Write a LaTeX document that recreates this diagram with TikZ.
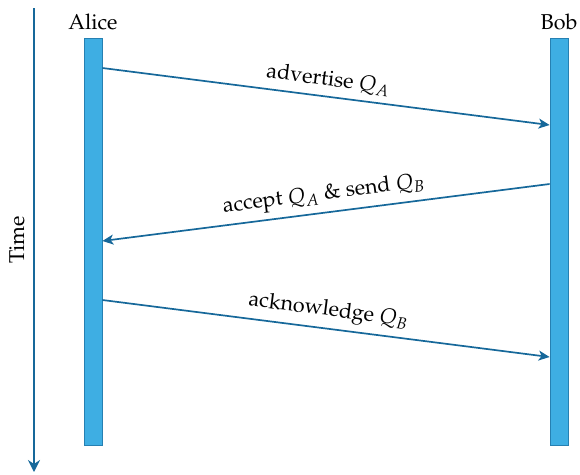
\documentclass[tikz,border=0pt]{standalone}
\usepackage[T1]{fontenc}
\usepackage{mathpazo}
\usetikzlibrary{arrows.meta,calc}
\definecolor{msgline}{RGB}{22,104,154}
\definecolor{barfill}{RGB}{62,174,227}
\definecolor{bardraw}{RGB}{38,128,178}
\tikzset{
  lifeline/.style={draw=bardraw,fill=barfill,line width=0.8pt,minimum width=18pt,minimum height=407pt,inner sep=0pt},
  msg/.style={draw=msgline,line width=1.7pt,-{Stealth[length=11pt,width=10pt,inset=3pt]}},
  msglabel/.style={sloped,above,midway,inner sep=6pt,text=black},
  who/.style={anchor=base,text=black}
}
\begin{document}
\begin{tikzpicture}[x=1pt,y=-1pt,font=\fontsize{21.5}{26}\selectfont]
\useasboundingbox (0,0) rectangle (580,474);
% time axis
\coordinate (ttop) at (34,8);
\coordinate (tbot) at (34,472);
\draw[draw=msgline,line width=2.8pt,-{Stealth[length=12pt,width=12pt,inset=4pt]}] (ttop) -- (tbot);
\node[rotate=90] (time) at (17,240) {Time};
% participants
\node[lifeline,anchor=north] (alice) at (93,38) {};
\node[lifeline,anchor=north] (bob) at (559,38) {};
\node[who] (alicelbl) at (93,29) {Alice};
\node[who] (boblbl) at (559,29) {Bob};
% message end points on the lifelines
\coordinate (a1) at ($(alice.north east)+(0,30)$);
\coordinate (b1) at ($(bob.north west)+(0,87)$);
\coordinate (b2) at ($(bob.north west)+(0,146)$);
\coordinate (a2) at ($(alice.north east)+(0,203)$);
\coordinate (a3) at ($(alice.north east)+(0,262)$);
\coordinate (b3) at ($(bob.north west)+(0,319)$);
% messages
\draw[msg] (a1) -- node[msglabel] (m1) {advertise $Q_A$} (b1);
\draw[msg] (b2) -- node[msglabel] (m2) {accept $Q_A$ \& send $Q_B$} (a2);
\draw[msg] (a3) -- node[msglabel] (m3) {acknowledge $Q_B$} (b3);
\end{tikzpicture}
\end{document}
